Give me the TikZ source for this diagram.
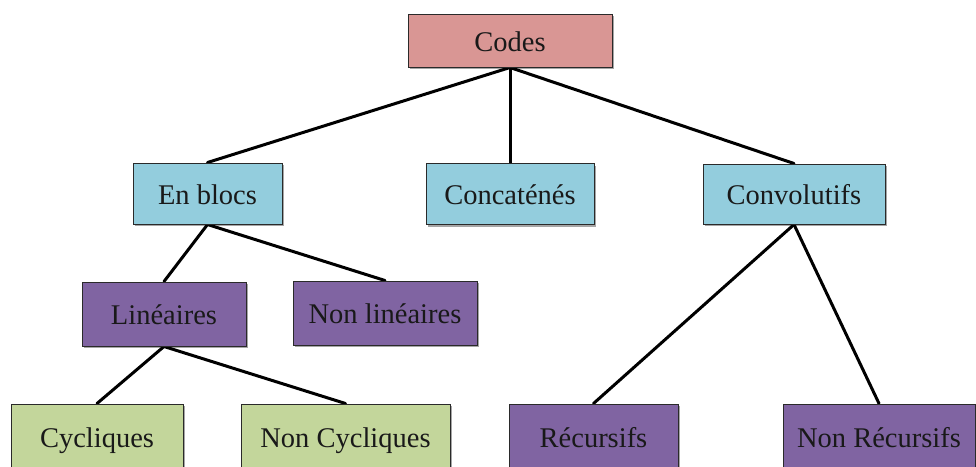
\documentclass[tikz,border=0pt]{standalone}
\usepackage{fontspec}
\setmainfont{Liberation Serif}
\usetikzlibrary{shadows,backgrounds}
\definecolor{cpink}{HTML}{D99694}
\definecolor{cblue}{HTML}{93CDDD}
\definecolor{cpurple}{HTML}{8064A2}
\definecolor{cgreen}{HTML}{C3D69B}
\definecolor{cborder}{HTML}{2A2A2A}
\tikzset{
  box/.style={draw=cborder, line width=1pt, inner sep=0pt, anchor=center,
    font=\fontsize{28.5}{33}\selectfont, text=black!90,
    text height=21pt, text depth=0pt,
    drop shadow={shadow xshift=1.5pt, shadow yshift=-2pt, opacity=0.35, fill=black}},
  pinkbox/.style={box, fill=cpink},
  bluebox/.style={box, fill=cblue},
  purplebox/.style={box, fill=cpurple},
  greenbox/.style={box, fill=cgreen},
  edge/.style={line width=3pt, black, line cap=round}
}
\begin{document}
\begin{tikzpicture}[x=1pt, y=-1pt]
\useasboundingbox (0,0) rectangle (976,466);
\clip (0,0) rectangle (976,466);
\node[pinkbox, minimum width=204pt, minimum height=53pt] (codes) at (510,40.5) {Codes};
\node[bluebox, minimum width=149pt, minimum height=61pt] (enblocs) at (207.5,193.5) {En blocs};
\node[bluebox, minimum width=168pt, minimum height=61pt] (concat) at (510,194) {Concaténés};
\node[bluebox, minimum width=182pt, minimum height=60pt] (convol) at (794,194) {Convolutifs};
\node[purplebox, minimum width=164pt, minimum height=64pt] (lin) at (164,314) {Linéaires};
\node[purplebox, minimum width=184pt, minimum height=64pt] (nonlin) at (385,313) {Non linéaires};
\node[greenbox, minimum width=172pt, minimum height=66pt] (cyc) at (97,437) {Cycliques};
\node[greenbox, minimum width=209pt, minimum height=66pt] (noncyc) at (345.5,437) {Non Cycliques};
\node[purplebox, minimum width=169pt, minimum height=66pt] (rec) at (593.5,437) {Récursifs};
\node[purplebox, minimum width=192pt, minimum height=66pt] (nonrec) at (879,437) {Non Récursifs};
\begin{scope}[on background layer]
\draw[edge] (codes.south) -- (enblocs.north);
\draw[edge] (codes.south) -- (concat.north);
\draw[edge] (codes.south) -- (convol.north);
\draw[edge] (enblocs.south) -- (lin.north);
\draw[edge] (enblocs.south) -- (nonlin.north);
\draw[edge] (lin.south) -- (cyc.north);
\draw[edge] (lin.south) -- (noncyc.north);
\draw[edge] (convol.south) -- (rec.north);
\draw[edge] (convol.south) -- (nonrec.north);
\end{scope}
\end{tikzpicture}
\end{document}
